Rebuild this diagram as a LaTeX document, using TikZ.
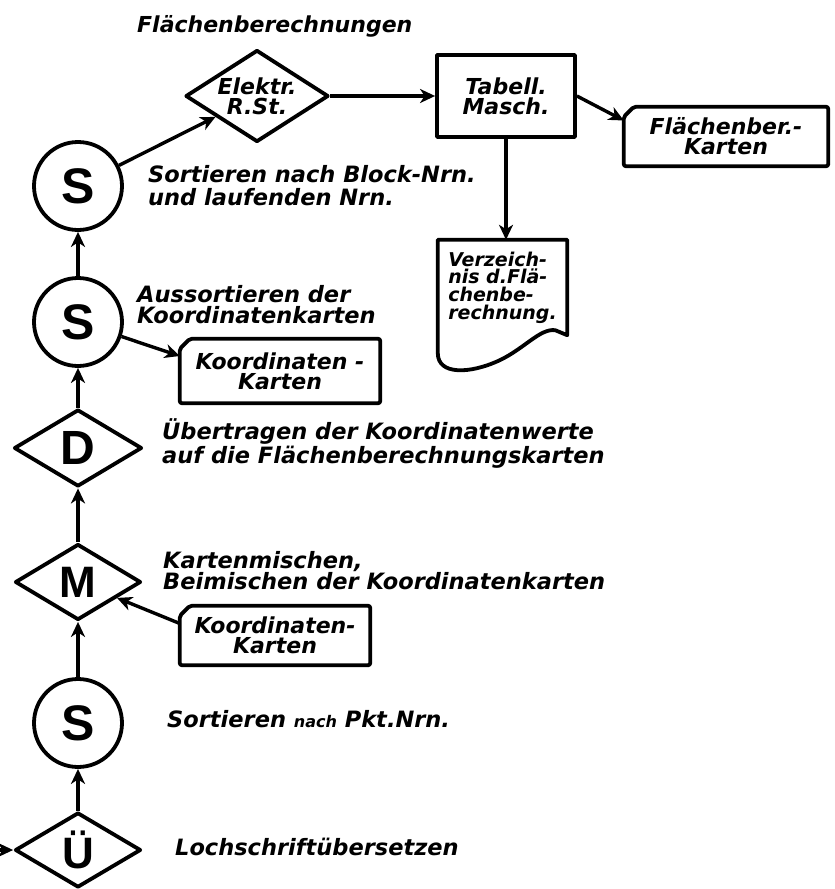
\documentclass[tikz,border=0pt]{standalone}
\usepackage{fontspec}
\setmainfont{DejaVu Sans}
\newfontfamily\letterfont{Liberation Sans}
\usetikzlibrary{arrows.meta,shapes.geometric,calc}
\newcommand\txtfont{\fontsize{22.5}{21}\selectfont\bfseries\itshape}
\newcommand\boxfont{\fontsize{22}{20}\selectfont\bfseries\itshape}
\newcommand\docfont{\fontsize{19}{17.7}\selectfont\bfseries\itshape}
\tikzset{
  shapeline/.style={line width=3.8pt, line join=round},
  arr/.style={line width=3.4pt, -{Stealth[length=15pt,width=14pt,inset=4.5pt]}},
  lbl/.style={font=\txtfont, anchor=base west, inner sep=0pt, align=left},
  circ/.style={shapeline, draw, circle, minimum size=88pt, inner sep=0pt,
    font=\letterfont\bfseries\fontsize{50}{50}\selectfont},
  dia/.style={shapeline, draw, diamond, inner sep=0pt, align=center,
    font=\letterfont\bfseries\fontsize{46}{46}\selectfont},
  box/.style={shapeline, draw, rectangle, inner sep=0pt, align=center, font=\boxfont},
  cardn/.style={rectangle, inner sep=0pt, align=center, font=\boxfont},
  docn/.style={rectangle, inner sep=0pt, align=left, font=\docfont,
    minimum width=129pt, minimum height=95pt},
}
\newcommand\cardoutline[1]{%
  \draw[shapeline, rounded corners=2pt] ($(#1.north west)+(10,0)$) -- (#1.north east)
    -- (#1.south east) -- (#1.south west) -- ($(#1.north west)+(0,10)$) -- cycle;}
\begin{document}
\begin{tikzpicture}[x=1pt,y=-1pt]
\useasboundingbox (0,0) rectangle (835,889);
\fill[white] (0,0) rectangle (835,889);

% shapes
\node[circ] (sTop) at (78,186) {S};
\node[dia, font=\boxfont, aspect=1.55, minimum width=143pt, minimum height=92pt] (elek) at (257,96) {Elektr.\\R.St.};
\node[box, minimum width=138pt, minimum height=82pt] (tab) at (506,96) {Tabell.\\Masch.};
\node[cardn, minimum width=204pt, minimum height=59pt] (fkart) at (726,136.5) {Flächenber.-\\Karten};
\cardoutline{fkart}
\node[docn] (verz) at (502.5,287.5) {Verzeich-\\nis d.Flä-\\chenbe-\\rechnung.};
\draw[shapeline] (verz.north east) -- (verz.north west)
  -- ($(verz.south west)+(0,18)$)
  .. controls +(0,22) and +(-30,14) .. ($(verz.south west)+(62,25)$)
  .. controls +(25,-12) and +(-15,-2) .. ($(verz.south east)+(-12,-5)$)
  -- (verz.south east) -- cycle;
\node[circ] (sMid) at (78,322) {S};
\node[cardn, minimum width=200pt, minimum height=64pt] (kk1) at (280,371) {Koordinaten -\\Karten};
\cardoutline{kk1}
\node[dia, aspect=1.66, minimum width=128pt, minimum height=77pt, font=\letterfont\bfseries\fontsize{48}{48}\selectfont] (dD) at (78,448) {D};
\node[dia, aspect=1.66, minimum width=126pt, minimum height=76pt, font=\letterfont\bfseries\fontsize{44}{44}\selectfont] (mM) at (78,582) {M};
\node[cardn, minimum width=190pt, minimum height=59pt] (kk2) at (275,635.5) {Koordinaten-\\Karten};
\cardoutline{kk2}
\node[circ] (sBot) at (78,723) {S};
\node[dia, aspect=1.66, minimum width=126pt, minimum height=75pt, font=\letterfont\bfseries\fontsize{44}{44}\selectfont] (uU) at (78,850) {Ü};
\coordinate (inU) at (0,850);

% connectors
\draw[arr] (sTop) -- (elek);
\draw[arr] (elek.east) -- (tab.west);
\draw[arr] (tab.east) -- ($(fkart.west)+(0,-16)$);
\draw[arr] (tab.south) -- (tab.south |- verz.north);
\draw[arr] (sMid.north) -- (sTop.south);
\draw[arr] (sMid) -- ($(kk1.west)+(0,-15)$);
\draw[arr] (dD.north) -- (sMid.south);
\draw[arr] (mM.north) -- (dD.south);
\draw[arr] ($(kk2.west)+(0,-12)$) -- (mM);
\draw[arr] (sBot.north) -- (mM.south);
\draw[arr] (uU.north) -- (sBot.south);
\draw[arr] (inU) -- (uU.west);

% labels (base = baseline of the last line)
\node[lbl, font=\fontsize{22}{20}\selectfont\bfseries\itshape] (title) at (137,32) {Flächenberechnungen};
\node[lbl, font=\fontsize{22.5}{22.5}\selectfont\bfseries\itshape] (sort1) at (148,205) {Sortieren nach Block-Nrn.\\und laufenden Nrn.};
\node[lbl] (aus) at (137,323) {Aussortieren der\\Koordinatenkarten};
\node[lbl] (ueber) at (162,463) {Übertragen der Koordinatenwerte\\auf die Flächenberechnungskarten};
\node[lbl] (mix) at (163,589) {Kartenmischen,\\Beimischen der Koordinatenkarten};
\node[lbl] (spkt) at (167,727) {Sortieren {\fontsize{16}{16}\selectfont nach} Pkt.Nrn.};
\node[lbl] (loch) at (175,855) {Lochschriftübersetzen};
\end{tikzpicture}
\end{document}
